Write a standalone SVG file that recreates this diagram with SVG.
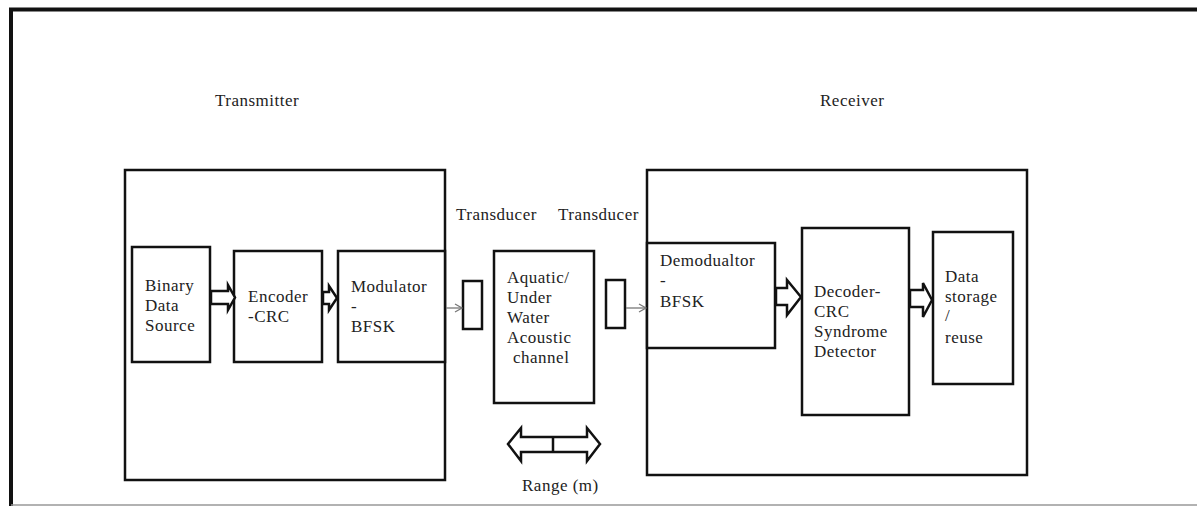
<svg xmlns="http://www.w3.org/2000/svg" width="1197" height="506" viewBox="0 0 1197 506">
<style>
text{font-family:'Liberation Serif','Times New Roman','DejaVu Serif',serif;font-size:17px;fill:#222;letter-spacing:0.5px}
.b{fill:#fff;stroke:#111;stroke-width:2.5}
.h{fill:#fff;stroke:#111;stroke-width:2.5;stroke-linejoin:miter}
.thin{stroke:#777;stroke-width:1.3;fill:none}
</style>
<defs>
<marker id="open" markerWidth="10" markerHeight="10" refX="8" refY="5" orient="auto" markerUnits="userSpaceOnUse">
<path d="M1,1 L8,5 L1,9" fill="none" stroke="#777" stroke-width="1.3"/>
</marker>
</defs>
<rect width="1197" height="506" fill="#fff"/>
<g id="frame">
<line x1="9" y1="9.5" x2="1197" y2="9.5" stroke="#111" stroke-width="4"/>
<line x1="11" y1="8" x2="11" y2="506" stroke="#111" stroke-width="4"/>
<line x1="11" y1="505" x2="1197" y2="505" stroke="#999" stroke-width="1.5"/>
</g>
<g id="transmitter">
<rect class="b" x="125" y="170" width="320" height="310"/>
<text x="215" y="106">Transmitter</text>
</g>
<g id="receiver">
<rect class="b" x="647" y="170" width="380" height="305"/>
<text x="820" y="106">Receiver</text>
</g>
<g id="binary">
<rect class="b" x="132" y="247" width="78" height="115"/>
<text x="145" y="291">Binary</text>
<text x="145" y="311">Data</text>
<text x="145" y="331">Source</text>
</g>
<g id="encoder">
<rect class="b" x="234" y="251" width="88" height="111"/>
<text x="248" y="302">Encoder</text>
<text x="248" y="322">-CRC</text>
</g>
<g id="modulator">
<rect class="b" x="338" y="251" width="107" height="111"/>
<text x="351" y="292">Modulator</text>
<text x="351" y="312">-</text>
<text x="351" y="332">BFSK</text>
</g>
<g id="tx-transducer">
<rect class="b" x="463" y="281" width="19" height="48"/>
<text x="456" y="220">Transducer</text>
</g>
<g id="channel">
<rect class="b" x="494" y="251" width="100" height="152"/>
<text x="507" y="283">Aquatic/</text>
<text x="507" y="303">Under</text>
<text x="507" y="323">Water</text>
<text x="507" y="343">Acoustic</text>
<text x="513" y="363">channel</text>
</g>
<g id="rx-transducer">
<rect class="b" x="606" y="280" width="19" height="48"/>
<text x="558" y="220">Transducer</text>
</g>
<g id="demodulator">
<rect class="b" x="647" y="243" width="128" height="105"/>
<text x="660" y="266">Demodualtor</text>
<text x="660" y="286">-</text>
<text x="660" y="307">BFSK</text>
</g>
<g id="decoder">
<rect class="b" x="802" y="228" width="107" height="187"/>
<text x="814" y="297">Decoder-</text>
<text x="814" y="317">CRC</text>
<text x="814" y="337">Syndrome</text>
<text x="814" y="357">Detector</text>
</g>
<g id="storage">
<rect class="b" x="933" y="232" width="80" height="152"/>
<text x="945" y="282">Data</text>
<text x="945" y="302">storage</text>
<text x="945" y="321">/</text>
<text x="945" y="343">reuse</text>
</g>
<g id="range">
<polygon class="h" points="508,444 521,428 521,437 587,437 587,428 600,444 587,461 587,452 521,452 521,461"/>
<line x1="553" y1="437" x2="553" y2="452" stroke="#111" stroke-width="2.5"/>
<text x="522" y="491">Range (m)</text>
</g>
<g id="connectors">
<polygon class="h" points="211,291 228,291 228,285 235,297.5 228,310 228,304 211,304"/>
<polygon class="h" points="323,292 329,292 329,286 337,298 329,310 329,304 323,304"/>
<polygon class="h" points="776,288 787,288 787,280 801,297 787,315 787,305 776,305"/>
<polygon class="h" points="910,290 923,290 923,283 932,300 923,317 923,307 910,307"/>
<line class="thin" x1="446" y1="308" x2="462" y2="308" marker-end="url(#open)"/>
<line class="thin" x1="626" y1="308" x2="646" y2="308" marker-end="url(#open)"/>
</g>
</svg>
